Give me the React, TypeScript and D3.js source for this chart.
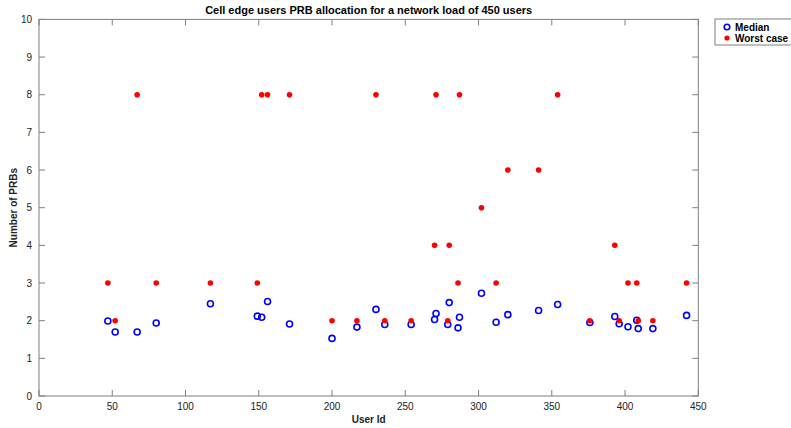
import React from "react";
import * as d3 from "d3";

const userIds = [47, 52, 67, 80, 117, 149, 152, 156, 171, 200, 217, 230, 236, 254, 270, 271, 279, 280, 286, 287, 302, 312, 320, 341, 354, 376, 393, 396, 402, 408, 409, 419, 442];
const medianPRB = [1.99, 1.70, 1.70, 1.94, 2.45, 2.12, 2.09, 2.51, 1.91, 1.53, 1.83, 2.30, 1.90, 1.90, 2.03, 2.19, 1.90, 2.48, 1.81, 2.09, 2.73, 1.96, 2.16, 2.27, 2.43, 1.95, 2.11, 1.92, 1.84, 2.01, 1.79, 1.79, 2.14];
const worstPRB = [3, 2, 8, 3, 3, 3, 8, 8, 8, 2, 2, 8, 2, 2, 4, 8, 2, 4, 3, 8, 5, 3, 6, 6, 8, 2, 4, 2, 3, 3, 2, 2, 3];
const xTicks = [0, 50, 100, 150, 200, 250, 300, 350, 400, 450];
const yTicks = [0, 1, 2, 3, 4, 5, 6, 7, 8, 9, 10];
const seriesNames = ["Median", "Worst case"];

const W = 791, H = 428;
const L = 39, R = 698.3, T = 19.4, B = 396;
const FONT = "'Liberation Sans', Arial, sans-serif";
const AX = "#7f7f7f";

export default function App() {
  const x = d3.scaleLinear().domain([0, 450]).range([L, R]);
  const y = d3.scaleLinear().domain([0, 10]).range([B, T]);
  const tl = 6;
  return (
    <svg width={W} height={H} style={{ position: "absolute", left: 0, top: 0, background: "#fff" }} fontFamily={FONT}>
      <rect x={0} y={0} width={W} height={H} fill="#fff" />
      <text x={(L + R) / 2} y={14} textAnchor="middle" fontSize={11} fontWeight="bold" fill="#000">
        Cell edge users PRB allocation for a network load of 450 users
      </text>
      <rect x={L} y={T} width={R - L} height={B - T} fill="none" stroke={AX} strokeWidth={1} />
      {xTicks.map((t) => (
        <g key={"x" + t}>
          <line x1={x(t)} x2={x(t)} y1={B} y2={B - tl} stroke={AX} />
          <line x1={x(t)} x2={x(t)} y1={T} y2={T + tl} stroke={AX} />
          <text x={x(t)} y={410} textAnchor="middle" fontSize={10} fill="#222">{t}</text>
        </g>
      ))}
      {yTicks.map((t) => (
        <g key={"y" + t}>
          <line x1={L} x2={L + tl} y1={y(t)} y2={y(t)} stroke={AX} />
          <line x1={R} x2={R - tl} y1={y(t)} y2={y(t)} stroke={AX} />
          <text x={32} y={y(t) + 3.5} textAnchor="end" fontSize={10} fill="#222">{t}</text>
        </g>
      ))}
      <text x={(L + R) / 2} y={423} textAnchor="middle" fontSize={10} fontWeight="bold" fill="#222">User Id</text>
      <text transform={`translate(17,${(T + B) / 2}) rotate(-90)`} textAnchor="middle" fontSize={10} fontWeight="bold" fill="#222">Number of PRBs</text>
      {userIds.map((u, i) => (
        <circle key={"m" + i} cx={x(u)} cy={y(medianPRB[i])} r={3} fill="none" stroke="#0000ff" strokeWidth={1.6} />
      ))}
      {userIds.map((u, i) => (
        <circle key={"w" + i} cx={x(u)} cy={y(worstPRB[i])} r={2.8} fill="#ff0000" />
      ))}
      <g>
        <rect x={715} y={19} width={90} height={26} fill="#fff" stroke={AX} />
        <circle cx={727} cy={27} r={2.8} fill="none" stroke="#0000ff" strokeWidth={1.6} />
        <text x={735} y={30.5} fontSize={10} fontWeight="bold" fill="#000">{seriesNames[0]}</text>
        <circle cx={727} cy={38} r={2.6} fill="#ff0000" />
        <text x={735} y={41.5} fontSize={10} fontWeight="bold" fill="#000">{seriesNames[1]}</text>
      </g>
    </svg>
  );
}
